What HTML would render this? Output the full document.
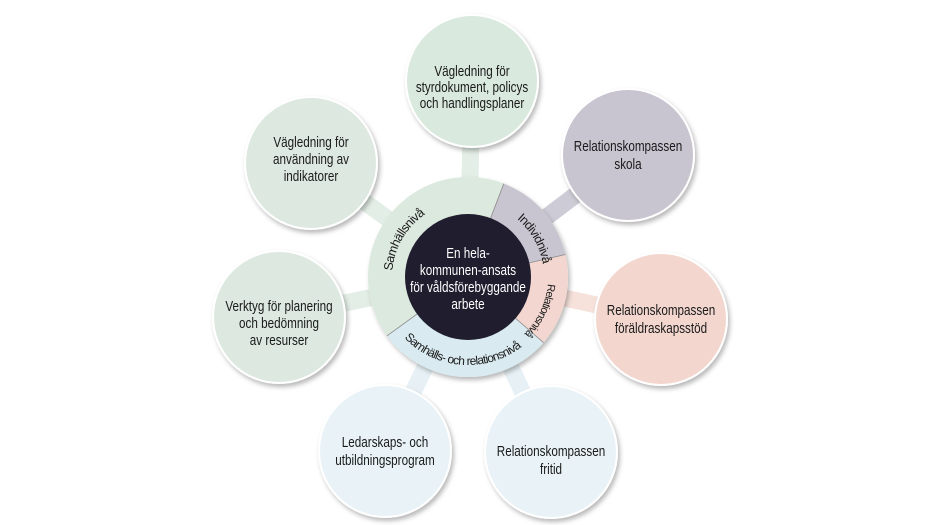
<!DOCTYPE html>
<html><head><meta charset="utf-8"><style>
html,body{margin:0;padding:0;background:#fff;}
svg{display:block;}
text{font-family:"Liberation Sans",sans-serif;}
</style></head><body>
<svg width="934" height="525" viewBox="0 0 934 525" xmlns="http://www.w3.org/2000/svg">
<defs>
<filter id="sh" x="-20%" y="-20%" width="150%" height="150%">
<feDropShadow dx="2" dy="3" stdDeviation="2.5" flood-color="#000" flood-opacity="0.28"/>
</filter>
<path id="pS" d="M405.8,320.6 A76,76 0 0 1 474.6,201.3"/>
<path id="pI" d="M500.1,208.1 A76,76 0 0 1 543.7,283.6"/>
<path id="pR" d="M547.7,284 A80,80 0 0 1 501.8,349.5"/>
<path id="pB" d="M395.9,327.5 A88,88 0 0 0 535.4,333.6"/>
</defs>
<g stroke-width="17" stroke-linecap="butt">
<line x1="468" y1="277" x2="472" y2="81" stroke="#e3eee6"/>
<line x1="468" y1="277" x2="628" y2="155" stroke="#cdcbd5"/>
<line x1="468" y1="277" x2="661" y2="319" stroke="#f6e1db"/>
<line x1="468" y1="277" x2="551" y2="452" stroke="#e7f1f5"/>
<line x1="468" y1="277" x2="385" y2="451" stroke="#e7f1f5"/>
<line x1="468" y1="277" x2="279" y2="317" stroke="#e3eee6"/>
<line x1="468" y1="277" x2="311" y2="163" stroke="#e3eee6"/>
</g>
<g filter="url(#sh)" stroke="#fff" stroke-width="2">
<circle cx="472" cy="81" r="66" fill="#d9e9dd"/>
<circle cx="628" cy="155" r="66" fill="#c8c5d0"/>
<circle cx="661" cy="319" r="66" fill="#f3d7cf"/>
<circle cx="551" cy="452" r="66" fill="#e9f3f7"/>
<circle cx="385" cy="451" r="66" fill="#e9f3f7"/>
<circle cx="279" cy="317" r="66" fill="#dde9e0"/>
<circle cx="311" cy="163" r="66" fill="#dde9e0"/>
</g>
<g filter="url(#sh)"><circle cx="468" cy="277" r="100" fill="#dce9df"/></g>
<path d="M468,277 L503.8,183.6 A100,100 0 0 1 565.4,254.5 Z" fill="#c8c5d0"/>
<path d="M468,277 L565.4,254.5 A100,100 0 0 1 543.5,342.6 Z" fill="#f2d6cf"/>
<path d="M468,277 L543.5,342.6 A100,100 0 0 1 387.1,335.8 Z" fill="#d9eaf0"/>
<g stroke="#8a8a8a" stroke-width="0.8">
<line x1="468" y1="277" x2="503.8" y2="183.6"/>
<line x1="468" y1="277" x2="565.4" y2="254.5"/>
<line x1="468" y1="277" x2="543.5" y2="342.6"/>
<line x1="468" y1="277" x2="387.1" y2="335.8"/>
</g>
<circle cx="468" cy="277" r="63" fill="#1f1d2e"/>
<g font-size="12.5" fill="#1a1a1a" letter-spacing="-0.6">
<text><textPath href="#pS" startOffset="50%" text-anchor="middle">Samhällsnivå</textPath></text>
<text><textPath href="#pI" startOffset="50%" text-anchor="middle">Individnivå</textPath></text>
<text font-size="11" letter-spacing="-0.8"><textPath href="#pR" startOffset="33%" text-anchor="middle">Relationsnivå</textPath></text>
<text font-size="12" letter-spacing="-0.7"><textPath href="#pB" startOffset="48%" text-anchor="middle">Samhälls- och relationsnivå</textPath></text>
</g>
<g font-size="15" fill="#fff" text-anchor="middle" transform="translate(468,0) scale(0.78,1)">
<text x="0" y="258">En hela-</text>
<text x="0" y="275">kommunen-ansats</text>
<text x="0" y="292">för våldsförebyggande</text>
<text x="0" y="309">arbete</text>
</g>
<g font-size="15" fill="#1a1a1a" text-anchor="middle">
<g transform="translate(472,0) scale(0.78,1)">
<text x="0" y="76">Vägledning för</text>
<text x="0" y="92">styrdokument, policys</text>
<text x="0" y="108">och handlingsplaner</text></g>
<g transform="translate(628,0) scale(0.78,1)">
<text x="0" y="151">Relationskompassen</text>
<text x="0" y="169">skola</text></g>
<g transform="translate(661,0) scale(0.78,1)">
<text x="0" y="315">Relationskompassen</text>
<text x="0" y="333">föräldraskapsstöd</text></g>
<g transform="translate(551,0) scale(0.78,1)">
<text x="0" y="456">Relationskompassen</text>
<text x="0" y="474">fritid</text></g>
<g transform="translate(385,0) scale(0.78,1)">
<text x="0" y="447">Ledarskaps- och</text>
<text x="0" y="465">utbildningsprogram</text></g>
<g transform="translate(279,0) scale(0.78,1)">
<text x="0" y="311">Verktyg för planering</text>
<text x="0" y="328">och bedömning</text>
<text x="0" y="345">av resurser</text></g>
<g transform="translate(311,0) scale(0.78,1)">
<text x="0" y="147">Vägledning för</text>
<text x="0" y="164">användning av</text>
<text x="0" y="181">indikatorer</text></g>
</g>
</svg>
</body></html>
